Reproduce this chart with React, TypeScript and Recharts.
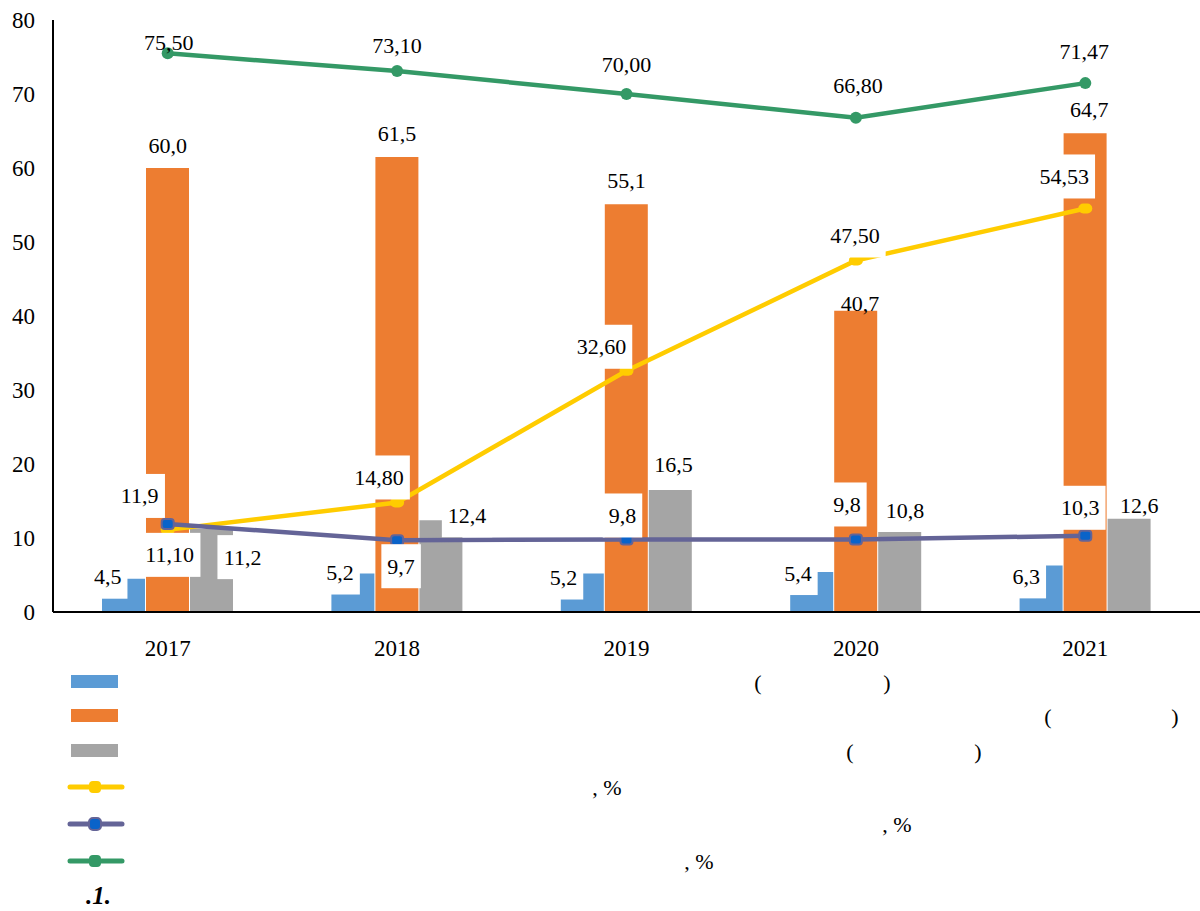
import React from "react";
import { ComposedChart, Bar, Line, XAxis, YAxis, LabelList } from "recharts";

const years = ["2017", "2018", "2019", "2020", "2021"];
const blueVals = [4.5, 5.2, 5.2, 5.4, 6.3];
const orangeVals = [60.0, 61.5, 55.1, 40.7, 64.7];
const grayVals = [11.2, 12.4, 16.5, 10.8, 12.6];
const yellowVals = [11.1, 14.8, 32.6, 47.5, 54.53];
const purpleVals = [11.9, 9.7, 9.8, 9.8, 10.3];
const greenVals = [75.5, 73.1, 70.0, 66.8, 71.47];
const yTicks = [0, 10, 20, 30, 40, 50, 60, 70, 80];

// legend text: the words did not survive in the source, only the punctuation
const legendTexts = ["(", ")", "(", ")", "(", ")", ", %", ", %", ", %"];
const captionText = ".1.";

const data = years.map((year, i) => ({
  year,
  blue: blueVals[i],
  orange: orangeVals[i],
  gray: grayVals[i],
  yellow: yellowVals[i],
  purple: purpleVals[i],
  green: greenVals[i],
}));

const FONT = "'Liberation Serif', 'Times New Roman', serif";
const C = {
  blue: "#5B9BD5",
  orange: "#ED7D31",
  gray: "#A5A5A5",
  yellow: "#FFCC00",
  purple: "#646497",
  purpleDot: "#0A63C9",
  green: "#349966",
};

// bar layout: 43px bars, 1px gap -> centres at -44 / 0 / +44 from category centre
const BAR = 43;
const SHIFT = { blue: -44, orange: 0, gray: 44 };

// label offsets (text centre from anchor point), per year
const NUDGE = {
  blue: [[-16, -2], [-13, -1], [-19, 4], [-14, 1], [-15, 11]],
  orange: [[0, -23], [0, -23], [0, -24], [4, -7], [4, -24]],
  gray: [[31, 28], [26, -5], [3, -25], [5, -22], [10, -13]],
  yellow: [[2, 25], [-18, -25], [-25, -24], [-1, -25], [-21, -32]],
  purple: [[-28, -28], [4, 26], [-4, -24], [-9, -35], [-5, -28]],
  green: [[1, -11], [0, -26], [0, -30], [2, -32], [-1, -32]],
};
// which labels carry a white background box
const BOXED = {
  blue: [true, true, true, true, true],
  gray: [true, true, false, false, false],
  yellow: [true, true, true, true, true],
  purple: [true, true, true, true, true],
  none: [false, false, false, false, false],
};

const fmt = (v: number, d: number) => v.toFixed(d).replace(".", ",");

function makeLabel(shift: number, nudges: number[][], digits: number, boxed: boolean[]) {
  return (p: any) => {
    if (p.value == null) return null;
    const [dx, dy] = nudges[p.index] || [0, 0];
    const cx = p.x + shift + dx;
    const cy = p.y + dy;
    const txt = fmt(Number(p.value), digits);
    const w = txt.split("").reduce((s, ch) => s + (ch === "," ? 5.5 : 11), 0) + 12;
    return (
      <g>
        {boxed[p.index] && <rect x={cx - w / 2} y={cy - 22} width={w} height={44} fill="#fff" />}
        <text x={cx} y={cy} textAnchor="middle" dominantBaseline="central"
          fontFamily={FONT} fontSize={22} fill="#000">
          {txt}
        </text>
      </g>
    );
  };
}

const YellowDot = (p: any) => (
  <rect x={p.cx - 7} y={p.cy - 5} width={14} height={10} rx={5} fill={C.yellow} />
);
const PurpleDot = (p: any) => (
  <rect x={p.cx - 6} y={p.cy - 5} width={12} height={10} rx={3} fill={C.purpleDot} stroke={C.purple} strokeWidth={2} />
);
const GreenDot = (p: any) => <circle cx={p.cx} cy={p.cy} r={6} fill={C.green} />;

const YTick = (p: any) => (
  <text x={35} y={p.y} textAnchor="end" dominantBaseline="central" fontFamily={FONT} fontSize={23} fill="#000">
    {p.payload.value}
  </text>
);
const XTick = (p: any) => (
  <text x={p.x} y={656} textAnchor="middle" fontFamily={FONT} fontSize={23} fill="#000">
    {p.payload.value}
  </text>
);

// hidden line series used only to draw the labels above every mark
function labelLayer(key: string, shift: number, nudges: number[][], digits: number, boxed: boolean[]) {
  return (
    <Line key={"lbl-" + key} dataKey={key} stroke="none" dot={false} activeDot={false}
      legendType="none" isAnimationActive={false}>
      <LabelList dataKey={key} content={makeLabel(shift, nudges, digits, boxed)} />
    </Line>
  );
}

const legendRows = [
  { kind: "box", color: C.blue, y: 682 },
  { kind: "box", color: C.orange, y: 716 },
  { kind: "box", color: C.gray, y: 751 },
  { kind: "line", color: C.yellow, y: 787, dot: C.yellow },
  { kind: "line", color: C.purple, y: 824, dot: C.purpleDot },
  { kind: "line", color: C.green, y: 861, dot: C.green },
];
const legendTextPos = [
  [758, 682], [887, 682], [1048, 716], [1175, 716], [850, 751], [978, 751],
  [607, 787], [897, 824], [699, 861],
];

export default function App() {
  return (
    <div style={{ position: "absolute", left: 0, top: 0, width: 1200, height: 911, background: "#fff", overflow: "hidden" }}>
      <ComposedChart width={1200} height={670} data={data}
        margin={{ top: 20, right: 0, bottom: 0, left: 0 }}
        barSize={BAR} barGap={1}>
        <XAxis dataKey="year" axisLine={{ stroke: "#000", strokeWidth: 2 }} tickLine={false}
          height={58} tick={<XTick />} interval={0} />
        <YAxis domain={[0, 80]} ticks={yTicks} axisLine={{ stroke: "#000", strokeWidth: 2 }}
          tickLine={false} width={53} tick={<YTick />} interval={0} />
        <Bar dataKey="blue" fill={C.blue} isAnimationActive={false} />
        <Bar dataKey="orange" fill={C.orange} isAnimationActive={false} />
        <Bar dataKey="gray" fill={C.gray} isAnimationActive={false} />
        <Line dataKey="yellow" stroke={C.yellow} strokeWidth={4.5} dot={<YellowDot />}
          activeDot={false} isAnimationActive={false} />
        <Line dataKey="purple" stroke={C.purple} strokeWidth={4.5} dot={<PurpleDot />}
          activeDot={false} isAnimationActive={false} />
        <Line dataKey="green" stroke={C.green} strokeWidth={4.5} dot={<GreenDot />}
          activeDot={false} isAnimationActive={false} />
        {labelLayer("blue", SHIFT.blue, NUDGE.blue, 1, BOXED.blue)}
        {labelLayer("orange", SHIFT.orange, NUDGE.orange, 1, BOXED.none)}
        {labelLayer("gray", SHIFT.gray, NUDGE.gray, 1, BOXED.gray)}
        {labelLayer("yellow", 0, NUDGE.yellow, 2, BOXED.yellow)}
        {labelLayer("purple", 0, NUDGE.purple, 1, BOXED.purple)}
        {labelLayer("green", 0, NUDGE.green, 2, BOXED.none)}
      </ComposedChart>

      <svg width={1200} height={241} style={{ position: "absolute", left: 0, top: 670 }}>
        <g transform="translate(0,-670)">
          {legendRows.map((r, i) =>
            r.kind === "box" ? (
              <rect key={i} x={71} y={r.y - 7} width={47} height={13} fill={r.color} />
            ) : (
              <g key={i}>
                <line x1={70} x2={122} y1={r.y} y2={r.y} stroke={r.color} strokeWidth={5} strokeLinecap="round" />
                <rect x={89} y={r.y - 6} width={12} height={12} rx={4} fill={r.dot}
                  stroke={r.color} strokeWidth={i === 4 ? 2 : 0} />
              </g>
            )
          )}
          {legendTexts.map((t, i) => (
            <text key={i} x={legendTextPos[i][0]} y={legendTextPos[i][1]} textAnchor="middle"
              dominantBaseline="central" fontFamily={FONT} fontSize={22} fill="#000">
              {t}
            </text>
          ))}
          <text x={86} y={895} dominantBaseline="central" fontFamily={FONT} fontSize={25}
            fontWeight="bold" fontStyle="italic" fill="#000">
            {captionText}
          </text>
        </g>
      </svg>
    </div>
  );
}
